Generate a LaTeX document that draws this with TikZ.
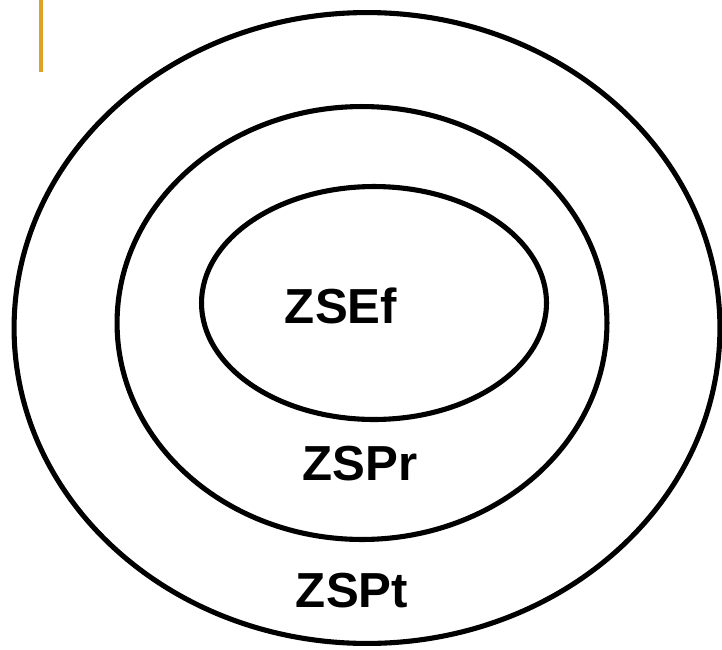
\documentclass[tikz,border=0pt]{standalone}
\usepackage{fontspec}
\setmainfont{Liberation Sans}
\usetikzlibrary{shapes.geometric}
\definecolor{bargold}{RGB}{218,165,32}

\begin{document}
\begin{tikzpicture}[
  x=0.02cm, y=-0.02cm,
  ring/.style={draw, ellipse, line width=2.9pt, inner sep=0pt},
  lbl/.style={font=\fontsize{28}{32}\selectfont\bfseries, inner sep=0pt}
]
\useasboundingbox (0,0) rectangle (722,649);
\node[ring, minimum width=14.12cm, minimum height=12.62cm] (outer) at (367,328) {};
\node[ring, minimum width=9.8cm, minimum height=8.66cm] (middle) at (362,323) {};
\node[ring, minimum width=6.9cm, minimum height=4.66cm] (inner) at (374,303) {};
\node[lbl] (ef) at (341,306) {ZSEf};
\node[lbl] (pr) at (360,464) {ZSPr};
\node[lbl] (pt) at (352,591) {ZSPt};
% accent bar
\coordinate (bartop) at (41,0);
\coordinate (barbot) at (41,72);
\draw[bargold, line width=2.2pt] (bartop) -- (barbot);
\end{tikzpicture}
\end{document}
